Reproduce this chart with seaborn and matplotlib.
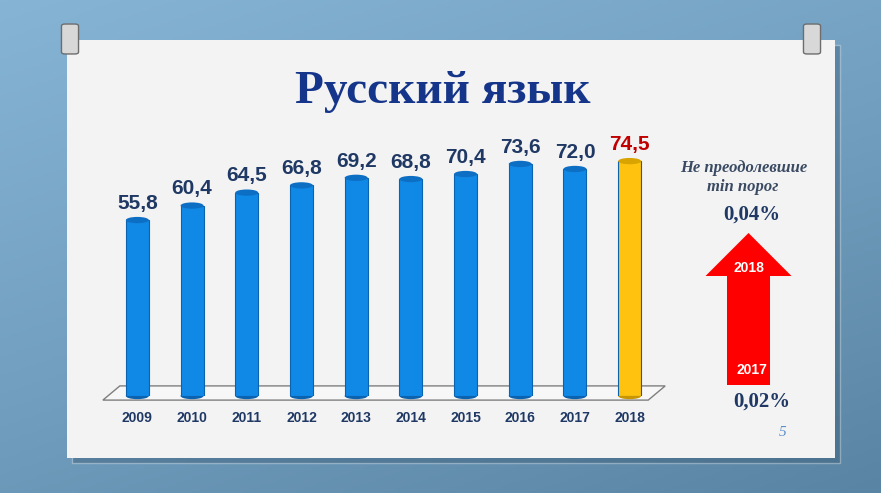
import numpy as np
import matplotlib.pyplot as plt
import seaborn as sns
from matplotlib.patches import Rectangle, Ellipse, FancyArrow, FancyBboxPatch

# Data

years = ['2009', '2010', '2011', '2012', '2013', '2014', '2015', '2016', '2017', '2018']
scores = [55.8, 60.4, 64.5, 66.8, 69.2, 68.8, 70.4, 73.6, 72.0, 74.5]
score_labels = ['55,8', '60,4', '64,5', '66,8', '69,2', '68,8', '70,4', '73,6', '72,0', '74,5']
fail_years = ['2017', '2018']
fail_labels = ['0,02%', '0,04%']

sns.set_theme(style='white')
plt.rcParams['font.family'] = ['Liberation Sans', 'DejaVu Sans']

navy = '#1f3864'
bar_blue = '#1089e6'
bar_gold = '#ffc20e'
colors = [bar_blue] * 9 + [bar_gold]

fig = plt.figure(figsize=(8.81, 4.93), dpi=100)

# Background

bg = fig.add_axes([0, 0, 1, 1], zorder=-10)
grad = np.linspace(0, 1, 256).reshape(-1, 1)
grad = grad + 0.6 * np.linspace(0, 1, 256).reshape(1, -1)
bg.imshow(grad, cmap=sns.blend_palette(['#86b4d4', '#729fc0', '#5a84a3'], as_cmap=True),
          aspect='auto', extent=[0, 1, 0, 1])
bg.set_axis_off()

# Card with shadow

fig.patches.append(Rectangle((72 / 881, 30 / 493), 768 / 881, 418 / 493, transform=fig.transFigure,
                             facecolor='#2f4f68', alpha=0.35, zorder=-6))
fig.patches.append(Rectangle((67 / 881, 35 / 493), 768 / 881, 418 / 493, transform=fig.transFigure,
                             facecolor='#f3f3f3', edgecolor='none', zorder=-5))

# Pins
for px in [70, 812]:
    fig.patches.append(FancyBboxPatch(((px - 5) / 881, (493 - 52) / 493), 10 / 881, 26 / 493,
                                      boxstyle='round,pad=0.004', transform=fig.transFigure,
                                      facecolor='#d8d8d8', edgecolor='#6d6d6d', lw=1, zorder=1))

fig.text(0.503, 0.813, 'Русский язык', ha='center', va='center', fontsize=34,
         fontweight='bold', color='#15358a', family=['Liberation Serif', 'DejaVu Serif'], zorder=5)

# Bar chart

ax = fig.add_axes([110 / 881, 97 / 493, 547 / 881, 268 / 493], zorder=0)
ax.patch.set_alpha(0)
sns.barplot(x=years, y=scores, hue=years, palette=colors, legend=False, width=0.42,
            saturation=1, edgecolor='#0b63b0', linewidth=0.8, ax=ax, zorder=3)
ax.set_xlim(-0.5, 9.5)
ax.set_ylim(0, 85)

# floor
ax.fill([-0.63, -0.32, 9.65, 9.34], [-1.3, 3.2, 3.2, -1.3], facecolor='#f7f7f7',
        edgecolor='#7f7f7f', lw=1, clip_on=False, zorder=1)

for i, (v, lab) in enumerate(zip(scores, score_labels)):
    top = '#0d6fc4' if i < 9 else '#d9a300'
    side = '#0b63b0' if i < 9 else '#c99500'
    ax.add_patch(Ellipse((i, v), 0.42, 2.0, facecolor=top, edgecolor='none', zorder=4, clip_on=False))
    ax.add_patch(Ellipse((i, 0), 0.42, 2.0, facecolor=side, edgecolor='none', zorder=2, clip_on=False))
    ax.text(i, v + 2.3, lab, ha='center', va='bottom', fontsize=15, fontweight='bold',
            color=navy if i < 9 else '#c00000', zorder=5)

ax.set_xticks(range(len(years)))
ax.set_xticklabels(years, fontsize=10, fontweight='bold', color=navy)
ax.tick_params(axis='x', length=0, pad=11)
ax.set_yticks([])
ax.set_xlabel('')
ax.set_ylabel('')
sns.despine(ax=ax, left=True, bottom=True)

# Right panel

serif = ['Liberation Serif', 'DejaVu Serif']
fig.text(744 / 881, 1 - 168 / 493, 'Не преодолевшие', ha='center', va='center', fontsize=12,
         style='italic', fontweight='bold', color='#3a4a63', family=serif)
fig.text(743 / 881, 1 - 187 / 493, 'min порог', ha='center', va='center', fontsize=12,
         style='italic', fontweight='bold', color='#3a4a63', family=serif)
fig.text(752 / 881, 1 - 215 / 493, fail_labels[1], ha='center', va='center', fontsize=15,
         fontweight='bold', color=navy, family=serif)
fig.text(762 / 881, 1 - 402 / 493, fail_labels[0], ha='center', va='center', fontsize=15,
         fontweight='bold', color=navy, family=serif)

arrow = FancyArrow(748.5 / 881, 1 - 385 / 493, 0, (385 - 233) / 493, width=43 / 881,
                   head_width=86 / 881, head_length=43 / 493, length_includes_head=True,
                   transform=fig.transFigure, facecolor='#ff0000', edgecolor='none', zorder=4)
fig.patches.append(arrow)
fig.text(749 / 881, 1 - 268 / 493, fail_years[1], ha='center', va='center', fontsize=10,
         fontweight='bold', color='white', zorder=6)
fig.text(752 / 881, 1 - 370 / 493, fail_years[0], ha='center', va='center', fontsize=10,
         fontweight='bold', color='white', zorder=6)

fig.text(783 / 881, 1 - 432 / 493, '5', ha='center', va='center', fontsize=11,
         style='italic', color='#5b8fc7', family=serif)

fig.savefig('out.png', dpi=100)
